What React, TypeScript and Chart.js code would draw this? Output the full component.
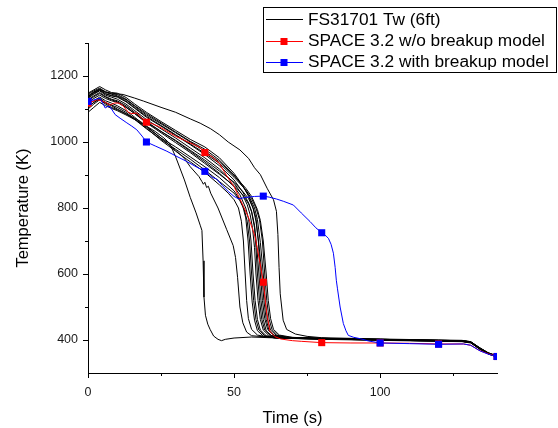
import React, { useEffect, useRef } from 'react';
import { Chart, registerables } from 'chart.js';

Chart.register(...registerables);

type P = [number, number];

// Axis ticks
const xTicks = [0, 50, 100];
const yTicks = [400, 600, 800, 1000, 1200];
const xMinorTicks = [25, 75, 125];
const yMinorTicks = [500, 700, 900, 1100, 1300];
const markerTimes = [0, 20, 40, 60, 80, 100, 120, 140];
const legendLabels = ['FS31701 Tw (6ft)', 'SPACE 3.2 w/o breakup model', 'SPACE 3.2 with breakup model'];

// Experimental wall temperatures (FS31701, 6 ft) — time (s), temperature (K)
const tw01: P[] = [[0,1148],[2,1158],[4,1168],[6,1158],[8,1150],[10,1148],[13,1135],[16,1115],[20,1090],[25,1062],[30,1035],[35,1008],[40,985],[45,952],[50,905],[53,868],[55,835],[56.5,800],[57.5,760],[58.5,690],[59.5,600],[60.2,520],[61,462],[62,428],[64,412],[68,407],[80,404],[100,401],[120,398],[128,397],[131,394],[134,376],[137,361],[140,352]];
const tw02: P[] = [[0,1145],[2,1155],[4,1163],[6,1152],[8,1146],[10,1144],[13,1130],[16,1110],[20,1086],[25,1058],[30,1030],[35,1002],[40,978],[45,945],[50,900],[53,865],[55,838],[57,800],[58,765],[59,695],[60,600],[60.7,515],[61.5,460],[62.5,430],[64.5,414],[68,408],[80,405],[100,402],[120,399],[128,398],[131,394],[134,376],[137,360],[140,351]];
const tw03: P[] = [[0,1140],[2,1152],[4,1160],[6,1150],[8,1145],[10,1140],[13,1128],[16,1108],[20,1082],[25,1055],[30,1028],[35,1000],[40,972],[45,940],[50,898],[54,860],[56,835],[58,795],[59,762],[60,700],[61,600],[61.7,520],[62.5,465],[63.5,432],[65.5,415],[70,408],[80,405],[100,401],[120,398],[128,397],[131,393],[134,375],[137,360],[140,350]];
const tw04: P[] = [[0,1138],[2,1150],[4,1158],[6,1146],[8,1140],[10,1136],[13,1122],[16,1102],[20,1075],[25,1048],[30,1020],[35,992],[40,962],[45,928],[50,885],[53,848],[55,815],[56,790],[57,748],[57.8,680],[58.5,600],[59.2,520],[60,462],[61,428],[63,412],[67,406],[80,403],[100,400],[120,397],[128,396],[131,392],[134,374],[137,359],[140,350]];
const tw05: P[] = [[0,1132],[2,1145],[4,1155],[6,1142],[8,1136],[10,1130],[13,1115],[16,1095],[20,1068],[25,1040],[30,1012],[35,982],[40,952],[45,918],[50,875],[53,838],[54.5,810],[55.5,780],[56.3,740],[57,680],[57.5,600],[58.2,520],[59,462],[60,430],[62,413],[66,407],[80,404],[100,401],[120,398],[128,397],[131,393],[134,374],[137,359],[140,349]];
const tw06: P[] = [[0,1128],[2,1140],[4,1150],[6,1138],[8,1130],[10,1125],[13,1110],[16,1090],[20,1062],[25,1032],[30,1003],[35,972],[40,940],[45,905],[50,865],[52,840],[54,800],[55,765],[55.8,700],[56.5,600],[57.2,520],[58,462],[59,430],[61,413],[65,406],[80,402],[100,399],[120,396],[128,395],[131,391],[134,373],[137,358],[140,349]];
const tw07: P[] = [[0,1115],[2,1125],[4,1136],[6,1125],[8,1118],[10,1110],[13,1095],[16,1075],[20,1045],[25,1012],[30,985],[35,955],[40,925],[45,892],[50,852],[52,825],[53,805],[54,770],[54.8,700],[55.5,600],[56.2,515],[57,460],[58,428],[60,412],[64,406],[80,403],[100,400],[120,397],[128,396],[131,392],[134,373],[137,358],[140,348]];
const tw08: P[] = [[0,1125],[2,1137],[4,1147],[6,1136],[8,1128],[10,1122],[13,1106],[16,1086],[20,1058],[25,1028],[30,998],[35,968],[40,935],[45,902],[50,868],[53,840],[55,812],[56,788],[57,740],[57.5,680],[58,600],[58.7,520],[59.5,462],[60.5,430],[62.5,414],[66,408],[80,405],[100,402],[120,399],[128,398],[131,394],[134,375],[137,359],[140,350]];
const tw09: P[] = [[0,1120],[2,1132],[4,1142],[6,1132],[8,1125],[10,1120],[13,1105],[16,1086],[20,1060],[25,1032],[30,1005],[35,975],[40,945],[45,912],[50,878],[53,850],[55,828],[56.5,800],[57.5,770],[58.3,700],[59,600],[59.7,520],[60.5,465],[61.5,432],[63.5,415],[67,408],[80,404],[100,401],[120,398],[128,397],[131,393],[134,375],[137,360],[140,350]];
const tw10: P[] = [[0,1135],[2,1147],[4,1157],[6,1146],[8,1141],[10,1138],[13,1124],[16,1104],[20,1078],[25,1050],[30,1022],[35,994],[40,966],[45,935],[50,893],[54,855],[56,828],[57.5,800],[58.7,765],[59.7,700],[60.5,600],[61.2,520],[62,463],[63,431],[65,414],[69,408],[80,405],[100,402],[120,399],[128,398],[131,395],[134,377],[137,361],[140,351]];
const tw11: P[] = [[0,1108],[2,1120],[4,1130],[6,1118],[8,1110],[10,1100],[13,1086],[16,1068],[20,1040],[25,1008],[30,978],[35,948],[40,915],[45,880],[50,845],[52,822],[53.5,795],[54.5,760],[55.3,700],[56,600],[56.7,520],[57.5,462],[58.5,430],[60.5,413],[64,406],[80,403],[100,400],[120,397],[128,396],[131,392],[134,373],[137,358],[140,348]];
const tw12: P[] = [[0,1090],[2,1105],[4,1120],[6,1110],[8,1102],[10,1095],[13,1082],[16,1068],[20,1048],[23,1032],[26,1012],[28,995],[30,955],[33,885],[35,832],[37,785],[38.4,748],[39,732],[39.4,640],[39.7,530],[40.2,475],[41,448],[41.8,432],[43,412],[44.5,402],[45.7,398],[47,402],[50,406],[56,409],[62,407],[70,405],[80,403],[100,400],[120,397],[128,396],[131,392],[134,374],[137,359],[140,349]];
const tw13: P[] = [[0,1100],[2,1115],[4,1128],[6,1115],[8,1105],[10,1098],[13,1085],[16,1072],[18,1062],[20,1048],[25,1012],[30,975],[33,950],[35,925],[38,895],[39,880],[39.5,872],[40,878],[40.6,862],[41.2,866],[42,845],[44.5,800],[47.5,734],[49.7,686],[50.5,650],[51.2,590],[52,500],[53,452],[54.3,424],[56,413],[60,410],[80,405],[100,402],[120,399],[128,398],[131,394],[134,376],[137,360],[140,351]];
const tw14: P[] = [[0,1105],[2,1120],[4,1132],[6,1120],[8,1112],[10,1105],[13,1090],[16,1070],[20,1042],[25,1005],[30,972],[35,940],[40,908],[45,870],[48,845],[50,825],[51.5,800],[52.5,760],[53.2,700],[53.8,600],[54.3,520],[54.9,465],[56,432],[58,415],[62,408],[80,404],[100,401],[120,398],[128,397],[131,393],[134,375],[137,359],[140,350]];
const tw15: P[] = [[0,1138],[2,1150],[4,1160],[6,1152],[8,1148],[10,1146],[12,1144],[16,1133],[19,1124],[25,1105],[30,1090],[35,1070],[38.4,1057],[42,1040],[45,1022],[48,1000],[52,976],[55,950],[57,922],[59,901],[61.3,860],[63.5,825],[64.5,790],[65,720],[65.4,620],[65.8,540],[66.8,460],[68,432],[71,418],[75,411],[80,407],[100,403],[120,400],[128,399],[131,395],[134,377],[137,361],[140,352]];

const expCurves: P[][] = [tw01, tw02, tw03, tw04, tw05, tw06, tw07, tw08, tw09, tw10, tw11, tw12, tw13, tw14, tw15];

// SPACE 3.2 without breakup model
const spaceNoBreakup: P[] = [[0,1118],[2,1124],[3,1128],[4.5,1125],[6,1120],[7.6,1112],[9,1118],[10.5,1118],[12,1110],[13.8,1090],[15,1086],[16.7,1088],[18,1075],[20,1060],[22,1055],[24,1048],[27,1033],[30,1017],[33,1005],[36,993],[38,985],[40,968],[42.5,955],[45,935],[47.5,897],[50,865],[53.2,805],[55,770],[57.2,713],[58.9,632],[60,575],[61.2,480],[62.3,426],[64,410],[66,403],[70,398],[73,396],[80,392],[90,391],[100,391],[110,390],[120,388],[128.5,388],[131,384],[134,368],[137,358],[140,350]];

// SPACE 3.2 with breakup model
const spaceBreakup: P[] = [[0,1123],[1.5,1126],[3,1130],[4.1,1133],[5,1118],[5.9,1103],[6.8,1108],[7.6,1106],[9.3,1083],[11,1072],[13.3,1058],[15,1048],[16.7,1037],[18.5,1018],[20,1000],[23,988],[27,972],[30,958],[33.8,941],[37,925],[40,911],[42.5,893],[44,888],[46,868],[48,850],[50,835],[51.5,828],[54,832],[57,835],[60,836],[62,833],[64.6,827],[67,820],[70.3,809],[73,785],[76,759],[78,740],[80,725],[81.5,715],[82.3,708],[83.2,690],[84,663],[84.6,620],[85,581],[85.4,555],[86.3,500],[87.4,450],[88.3,428],[89.1,414],[91,408],[93.2,404],[96,397],[100,391],[110,389],[120,387],[128.5,388],[131,384],[134.2,367],[137,357],[140,350]];

const FONT = '"Liberation Sans", Arial, Helvetica, sans-serif';

const toXY = (pts: P[]) => pts.map(([x, y]) => ({ x, y }));

const markerRadius = (ctx: any) => {
  const raw = ctx.raw as { x: number } | undefined;
  return raw && markerTimes.includes(raw.x) ? 5 : 0;
};

const overlayPlugin = {
  id: 'overlay',
  afterDraw(chart: any) {
    const { ctx, chartArea } = chart;
    const xs = chart.scales.x;
    const ys = chart.scales.y;
    ctx.save();
    ctx.strokeStyle = '#000';
    ctx.lineWidth = 1;
    ctx.beginPath();
    xMinorTicks.forEach((v) => {
      const px = Math.round(xs.getPixelForValue(v)) + 0.5;
      ctx.moveTo(px, chartArea.bottom);
      ctx.lineTo(px, chartArea.bottom + 3);
    });
    yMinorTicks.forEach((v) => {
      const py = Math.round(ys.getPixelForValue(v)) + 0.5;
      ctx.moveTo(chartArea.left, py);
      ctx.lineTo(chartArea.left - 3, py);
    });
    ctx.stroke();

    // Legend box
    const bx = 263.5, by = 7.5, bw = 293, bh = 65;
    ctx.fillStyle = '#fff';
    ctx.fillRect(bx, by, bw, bh);
    ctx.strokeStyle = '#000';
    ctx.strokeRect(bx, by, bw, bh);
    const rows = [19, 40.5, 61.5];
    const colors = ['#000000', '#ff0000', '#0000ff'];
    rows.forEach((ry, i) => {
      ctx.strokeStyle = colors[i];
      ctx.lineWidth = 1;
      ctx.beginPath();
      ctx.moveTo(266, Math.round(ry) + 0.5);
      ctx.lineTo(303, Math.round(ry) + 0.5);
      ctx.stroke();
      if (i > 0) {
        ctx.fillStyle = colors[i];
        ctx.fillRect(280.5, Math.round(ry) - 3, 7, 7);
      }
      ctx.fillStyle = '#000';
      ctx.font = `17.3px ${FONT}`;
      ctx.textBaseline = 'middle';
      ctx.textAlign = 'left';
      ctx.fillText(legendLabels[i], 308, ry + 1);
    });
    ctx.restore();
  },
};

export default function App() {
  const canvasRef = useRef<HTMLCanvasElement | null>(null);

  useEffect(() => {
    if (!canvasRef.current) return;
    const datasets: any[] = expCurves.map((c, i) => ({
      label: i === 0 ? legendLabels[0] : `tw${i + 1}`,
      data: toXY(c),
      borderColor: '#000000',
      borderWidth: 1,
      pointRadius: 0,
      order: 2,
    }));
    datasets.push({
      label: legendLabels[1],
      data: toXY(spaceNoBreakup),
      borderColor: '#ff0000',
      borderWidth: 1,
      pointRadius: markerRadius,
      pointStyle: 'rect',
      pointBackgroundColor: '#ff0000',
      pointBorderColor: '#ff0000',
      pointBorderWidth: 0,
      order: 1,
    });
    datasets.push({
      label: legendLabels[2],
      data: toXY(spaceBreakup),
      borderColor: '#0000ff',
      borderWidth: 1,
      pointRadius: markerRadius,
      pointStyle: 'rect',
      pointBackgroundColor: '#0000ff',
      pointBorderColor: '#0000ff',
      pointBorderWidth: 0,
      order: 0,
    });

    const chart = new Chart(canvasRef.current, {
      type: 'line',
      data: { datasets },
      options: {
        responsive: false,
        devicePixelRatio: 1,
        animation: false,
        events: [],
        layout: { padding: { top: 43, right: 61, bottom: 0, left: 0 } },
        plugins: {
          legend: { display: false },
          tooltip: { enabled: false },
        },
        elements: { line: { tension: 0 } },
        scales: {
          x: {
            type: 'linear',
            min: 0,
            max: 140,
            afterFit: (s: any) => { s.height = 55; },
            afterBuildTicks: (s: any) => { s.ticks = xTicks.map((v) => ({ value: v })); },
            grid: { drawOnChartArea: false, drawTicks: true, tickLength: 5, tickColor: '#000', color: '#000' },
            border: { display: true, color: '#000', width: 1 },
            ticks: { color: '#1a1a1a', font: { family: FONT, size: 12.5 }, padding: 7, maxRotation: 0, callback: (v: any) => String(v) },
            title: { display: true, text: 'Time (s)', color: '#000', font: { family: FONT, size: 16.5 }, padding: { top: 0, bottom: 0 } },
          },
          y: {
            type: 'linear',
            min: 300,
            max: 1300,
            afterFit: (s: any) => { s.width = 88; },
            afterBuildTicks: (s: any) => { s.ticks = yTicks.map((v) => ({ value: v })); },
            grid: { drawOnChartArea: false, drawTicks: true, tickLength: 5, tickColor: '#000', color: '#000' },
            border: { display: true, color: '#000', width: 1 },
            ticks: { color: '#1a1a1a', font: { family: FONT, size: 12.5 }, padding: 5, callback: (v: any) => String(v) },
            title: { display: true, text: 'Temperature (K)', color: '#000', font: { family: FONT, size: 16.5 }, padding: { top: 14, bottom: 0 } },
          },
        },
      },
      plugins: [overlayPlugin],
    });
    return () => chart.destroy();
  }, []);

  return (
    <div style={{ position: 'absolute', left: 0, top: 0, width: 558, height: 428, background: '#fff' }}>
      <canvas ref={canvasRef} width={558} height={428} style={{ display: 'block' }} />
    </div>
  );
}
